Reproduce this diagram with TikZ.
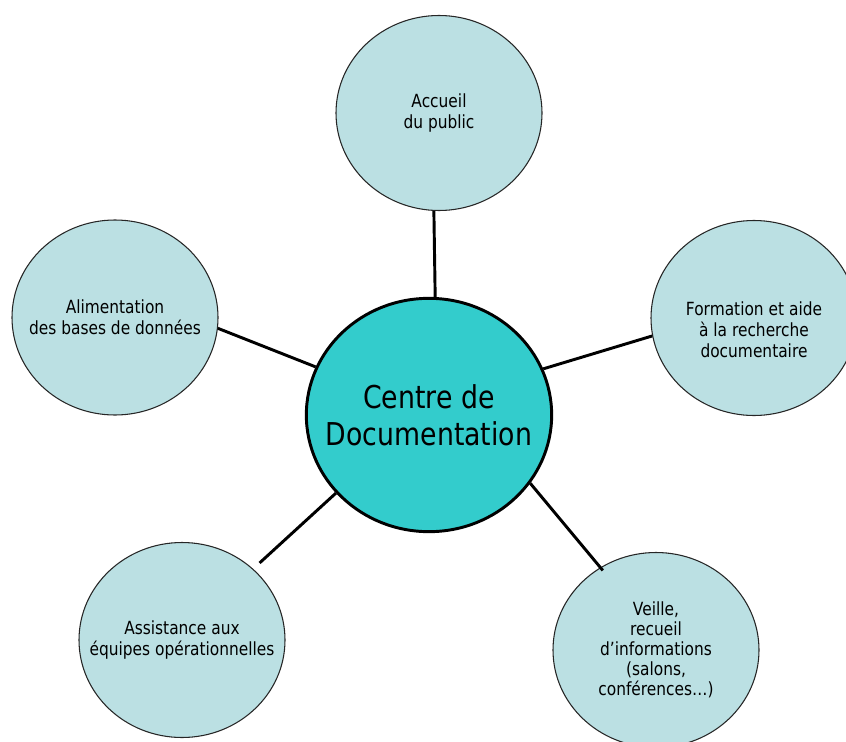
\documentclass[tikz,border=0pt]{standalone}
\usepackage{fontspec}
\setmainfont[FakeStretch=0.85]{DejaVu Sans}
\usetikzlibrary{shapes.geometric}
\definecolor{paleblue}{RGB}{187,224,227}
\definecolor{hubcyan}{RGB}{51,204,204}
\begin{document}
\begin{tikzpicture}[x=0.75pt,y=-0.75pt,
  outer/.style={ellipse, draw=black!85, line width=0.8pt, fill=paleblue,
    minimum width=154.5pt, minimum height=146.25pt, inner sep=0pt},
  lbl/.style={align=center, inner sep=0pt, font=\fontsize{13.6pt}{15.75pt}\selectfont, text=black},
  hub/.style={ellipse, draw=black, line width=2.2pt, fill=hubcyan,
    minimum width=184pt, minimum height=175pt, inner sep=0pt},
  hublbl/.style={align=center, inner sep=0pt, font=\fontsize{23.6pt}{27.75pt}\selectfont, text=black},
  link/.style={line width=2.2pt, draw=black}]
\useasboundingbox (0,0) rectangle (846,742);
\clip (0,0) rectangle (846,742);
\node[hub, label={[hublbl]center:Centre de\\Documentation}] (c) at (429,415) {};
\node[outer, label={[lbl]center:Accueil\\du public}] (t) at (439,113) {};
\node[outer, label={[lbl, yshift=-9pt]center:Formation et aide\\à la recherche\\documentaire}] (r) at (754,318) {};
\node[outer, label={[lbl]center:Alimentation\\des bases de données}] (l) at (115,317.5) {};
\node[outer, label={[lbl]center:Assistance aux\\équipes opérationnelles}] (a) at (182,640) {};
\node[outer, label={[lbl, font=\fontsize{13.6pt}{15pt}\selectfont]center:Veille,\\recueil\\d’informations\\(salons,\\conférences…)}] (v) at (656,650) {};
\draw[link] (c.87.6) -- (t.267);
\draw[link] (c.22.8) -- (r.190.5);
\draw[link] (c.157.2) -- (l.354.7);
\draw[link, shorten >=6.5pt] (c.220) -- (a.45.7);
\draw[link, shorten >=-3pt] (c.326) -- (v.124.7);
\end{tikzpicture}
\end{document}
